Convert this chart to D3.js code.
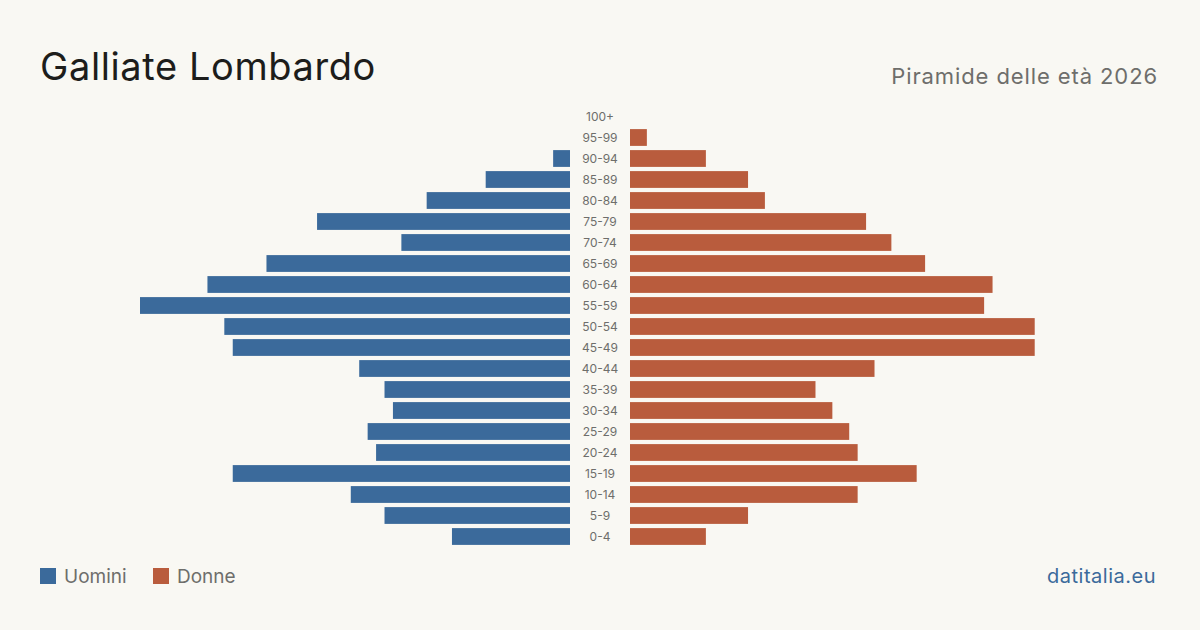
<!DOCTYPE html>
<html>
<head>
<meta charset="utf-8">
<script src="https://cdn.jsdelivr.net/npm/d3@7"></script>
<style>
  body { margin: 0; background: #f9f8f3; }
  svg { display: block; font-family: Inter, "Noto Sans", sans-serif; }
</style>
</head>
<body>
<div id="chart"></div>
<script>
// age groups, top to bottom
const ageGroups = ['100+', '95-99', '90-94', '85-89', '80-84', '75-79', '70-74', '65-69',
  '60-64', '55-59', '50-54', '45-49', '40-44', '35-39', '30-34', '25-29', '20-24',
  '15-19', '10-14', '5-9', '0-4'];
const men   = [0, 0, 2, 10, 17, 30, 20, 36, 43, 51, 41, 40, 25, 22, 21, 24, 23, 40, 26, 22, 14];
const women = [0, 2, 9, 14, 16, 28, 31, 35, 43, 42, 48, 48, 29, 22, 24, 26, 27, 34, 27, 14, 9];

const title = 'Galliate Lombardo';
const subtitle = 'Piramide delle età 2026';
const source = 'datitalia.eu';

const W = 1200, H = 630;
const blue = '#3b6a9b', red = '#b95c3d';

const svg = d3.select('#chart').append('svg')
  .attr('width', W).attr('height', H);

svg.append('rect').attr('width', W).attr('height', H).attr('fill', '#f9f8f3');

// headings
svg.append('text')
  .attr('x', 40).attr('y', 80)
  .attr('font-size', 38).attr('fill', '#1d1d1b')
  .attr('letter-spacing', 0.6)
  .text(title);

svg.append('text')
  .attr('x', 1158).attr('y', 84)
  .attr('text-anchor', 'end')
  .attr('font-size', 22).attr('fill', '#6e6e6b')
  .attr('letter-spacing', 0.9)
  .text(subtitle);

// scales
const maxVal = d3.max([...men, ...women]);
const xLen = d3.scaleLinear().domain([0, maxVal]).range([0, 430]);
const leftEdge = 570, rightEdge = 630;

const y = d3.scaleBand()
  .domain(ageGroups)
  .range([106, 547])
  .paddingInner(0.2)
  .paddingOuter(0.1);

const rows = ageGroups.map((g, i) => ({ g, m: men[i], f: women[i] }));

svg.append('g').selectAll('rect')
  .data(rows.filter(d => d.m > 0))
  .join('rect')
    .attr('x', d => leftEdge - xLen(d.m))
    .attr('y', d => y(d.g))
    .attr('width', d => xLen(d.m))
    .attr('height', y.bandwidth())
    .attr('fill', blue);

svg.append('g').selectAll('rect')
  .data(rows.filter(d => d.f > 0))
  .join('rect')
    .attr('x', rightEdge)
    .attr('y', d => y(d.g))
    .attr('width', d => xLen(d.f))
    .attr('height', y.bandwidth())
    .attr('fill', red);

// age labels in the middle
svg.append('g').selectAll('text')
  .data(ageGroups)
  .join('text')
    .attr('x', 600)
    .attr('y', d => y(d) + y.bandwidth() / 2)
    .attr('dy', '0.35em')
    .attr('text-anchor', 'middle')
    .attr('font-size', 12)
    .attr('fill', '#6e6e6b')
    .text(d => d);

// legend
const legend = [{ label: 'Uomini', color: blue, x: 40 }, { label: 'Donne', color: red, x: 153 }];
const lg = svg.append('g').selectAll('g')
  .data(legend)
  .join('g')
    .attr('transform', d => `translate(${d.x},568)`);
lg.append('rect').attr('width', 16).attr('height', 16).attr('fill', d => d.color);
lg.append('text')
  .attr('x', 24).attr('y', 14.5)
  .attr('font-size', 19).attr('fill', '#6e6e6b')
  .text(d => d.label);

svg.append('text')
  .attr('x', 1156).attr('y', 583)
  .attr('text-anchor', 'end')
  .attr('font-size', 20).attr('fill', blue)
  .attr('letter-spacing', 0.5)
  .text(source);
</script>
</body>
</html>
